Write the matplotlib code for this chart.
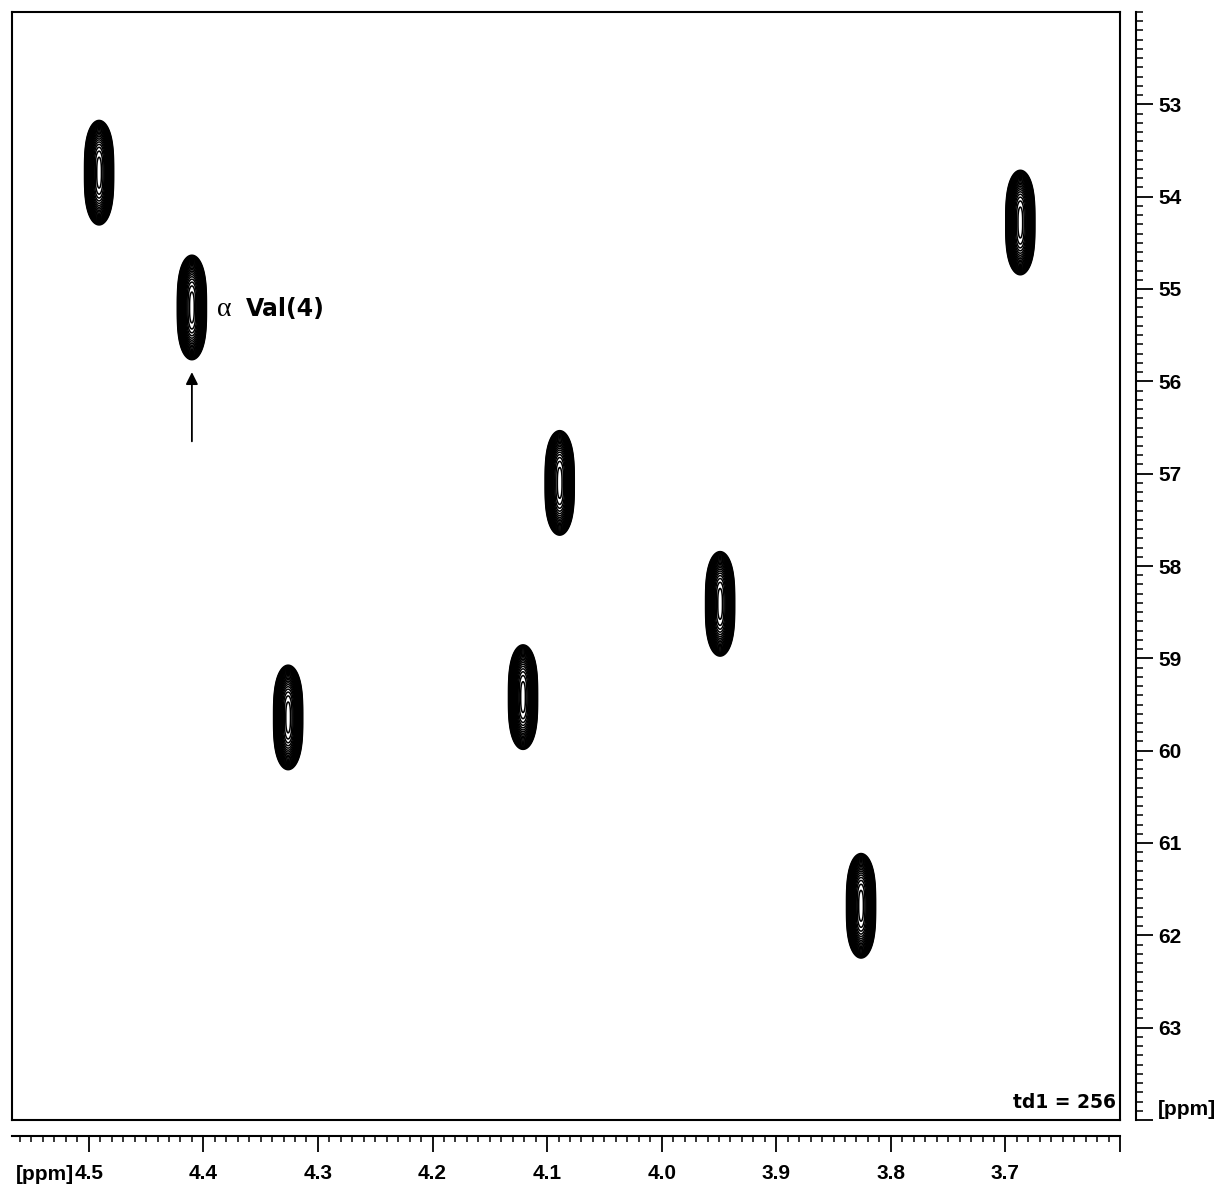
import numpy as np
import matplotlib
matplotlib.use('Agg')
import matplotlib.pyplot as plt
from matplotlib.ticker import MultipleLocator, FixedLocator

plt.rcParams['font.family'] = ['Liberation Sans', 'DejaVu Sans']

#%% Peak list (1H ppm, 13C ppm)
peak_h = [4.491, 4.410, 4.089, 3.949, 4.121, 4.326, 3.826, 3.687]
peak_c = [53.74, 55.20, 57.10, 58.41, 59.42, 59.64, 61.68, 54.28]
peak_int = [1.0, 1.0, 1.0, 1.0, 1.0, 1.0, 1.0, 1.0]

x_ticks = [4.5, 4.4, 4.3, 4.2, 4.1, 4.0, 3.9, 3.8, 3.7, 3.6]
x_labels = ['4.5', '4.4', '4.3', '4.2', '4.1', '4.0', '3.9', '3.8', '3.7', '']
y_ticks = [53, 54, 55, 56, 57, 58, 59, 60, 61, 62, 63, 64]
y_labels = ['53', '54', '55', '56', '57', '58', '59', '60', '61', '62', '63', '']

xlim = (4.567, 3.6)
ylim = (64.0, 52.0)

#%% Build a 2D surface from the peak list (boxy lineshape in F1)
sig_x = 0.0049
sig_y = 0.30
xg = np.linspace(xlim[1], xlim[0], 1600)
yg = np.linspace(ylim[1], ylim[0], 1400)
X, Y = np.meshgrid(xg, yg)
Z = np.zeros_like(X)
for h, c, a in zip(peak_h, peak_c, peak_int):
    Z += a * np.exp(-0.5 * ((X - h) / sig_x) ** 2
                    - 0.5 * np.abs((Y - c) / sig_y) ** 3)

levels = 0.035 * 1.16 ** np.arange(23)

#%% Plotting
W, H = 1223, 1187
fig = plt.figure(figsize=(W / 100, H / 100), dpi=100)

ax = fig.add_axes([12 / W, 1 - 1120 / H, 1108 / W, 1108 / H])
ax.contour(X, Y, Z, levels=levels, colors='black', linewidths=1.1)
ax.set_xlim(*xlim)
ax.set_ylim(*ylim)
ax.set_xticks([])
ax.set_yticks([])
for s in ax.spines.values():
    s.set_linewidth(1.5)

# label + arrow on Val(4)
ax.annotate('', xy=(peak_h[1], 55.87), xytext=(peak_h[1], 56.68),
            arrowprops=dict(arrowstyle='-|>', color='black', lw=1.3,
                            mutation_scale=18))
ax.text(4.388, 55.22, '\u03b1', fontsize=20, family='Liberation Serif',
        ha='left', va='center')
ax.text(4.363, 55.22, 'Val(4)', fontsize=17, fontweight='bold',
        family='DejaVu Sans', ha='left', va='center')
ax.text(0.996, 0.007, 'td1 = 256', transform=ax.transAxes, fontsize=13.5,
        fontweight='bold', family='DejaVu Sans', ha='right', va='bottom')

# bottom (F2) scale
axb = fig.add_axes([12 / W, 1 - 1136 / H, 1108 / W, 1e-6])
axb.patch.set_visible(False)
for k in ['top', 'left', 'right']:
    axb.spines[k].set_visible(False)
axb.spines['bottom'].set_linewidth(1.5)
axb.set_xlim(*xlim)
axb.set_yticks([])
axb.xaxis.set_major_locator(FixedLocator(x_ticks))
axb.set_xticklabels(x_labels)
axb.xaxis.set_minor_locator(MultipleLocator(0.01))
axb.tick_params(axis='x', which='major', direction='out', length=11.5,
                width=1.3, pad=8.5, labelsize=15)
axb.tick_params(axis='x', which='minor', direction='out', length=4.5,
                width=1.1)
for lab in axb.get_xticklabels():
    lab.set_fontweight('bold')
fig.text(74 / W, 1 - 1180 / H, '[ppm]', fontsize=15, fontweight='bold',
         ha='right', va='baseline')

# right (F1) scale
axr = fig.add_axes([1136 / W, 1 - 1120 / H, 1e-6, 1108 / H])
axr.patch.set_visible(False)
for k in ['top', 'left', 'bottom']:
    axr.spines[k].set_visible(False)
axr.spines['right'].set_linewidth(1.5)
axr.set_ylim(*ylim)
axr.set_xticks([])
axr.yaxis.tick_right()
axr.yaxis.set_major_locator(FixedLocator(y_ticks))
axr.set_yticklabels(y_labels)
axr.yaxis.set_minor_locator(MultipleLocator(0.1))
axr.tick_params(axis='y', which='major', direction='out', length=12,
                width=1.3, pad=4, labelsize=15)
axr.tick_params(axis='y', which='minor', direction='out', length=5,
                width=1.1)
for lab in axr.get_yticklabels():
    lab.set_fontweight('bold')
fig.text(1158 / W, 1 - 1115 / H, '[ppm]', fontsize=15, fontweight='bold',
         ha='left', va='baseline')

fig.savefig('out.png', dpi=100)
